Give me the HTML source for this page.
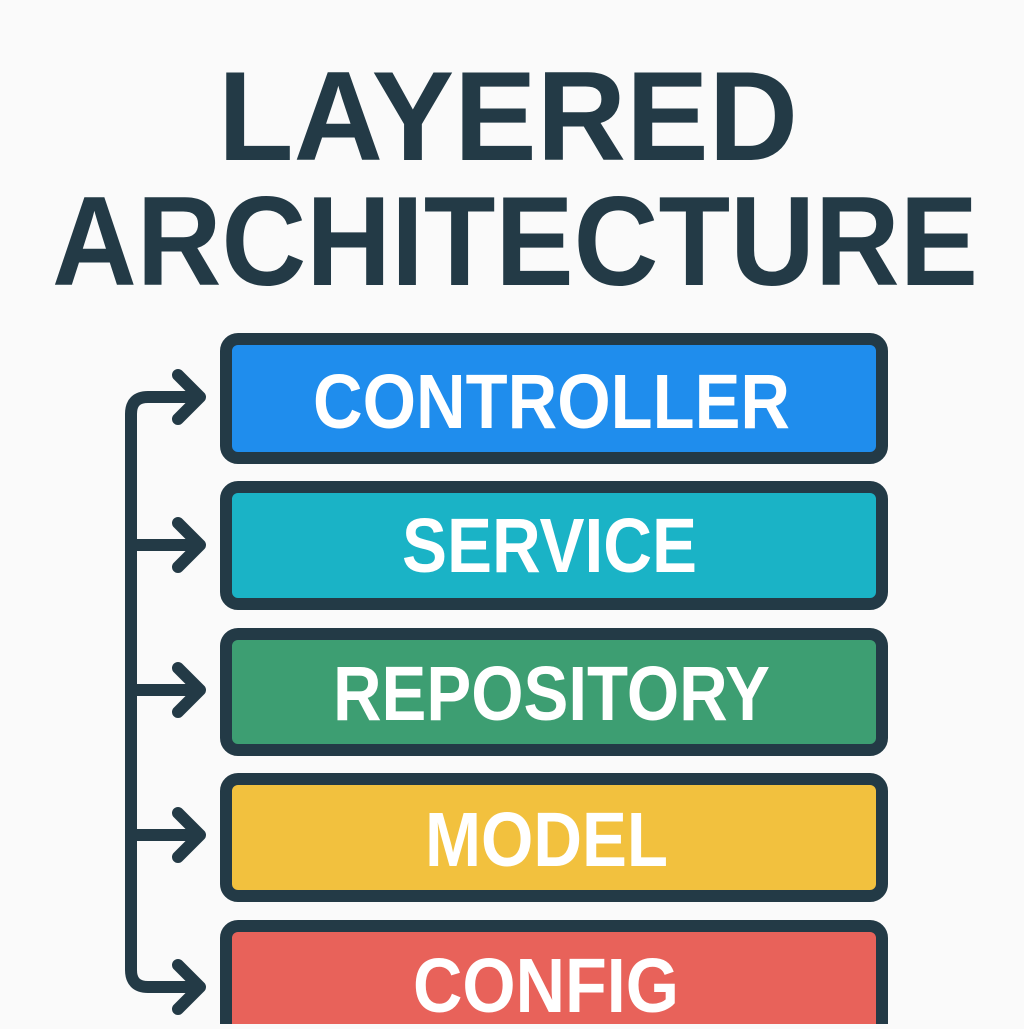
<!DOCTYPE html>
<html><head><style>html,body{margin:0;padding:0;background:#fafafa;}</style></head>
<body>
<svg width="1024" height="1024" viewBox="0 0 1024 1024" xmlns="http://www.w3.org/2000/svg">
<rect width="1024" height="1024" fill="#fafafa"/>
<g font-family="Liberation Sans, sans-serif" font-weight="bold" fill="#233a46">
<text x="218" y="160" font-size="127" textLength="580" lengthAdjust="spacingAndGlyphs">LAYERED</text>
<text x="52" y="285" font-size="127" textLength="926" lengthAdjust="spacingAndGlyphs">ARCHITECTURE</text>
</g>
<g stroke="#233a46" stroke-width="12">
<rect x="226" y="339" width="656" height="119" rx="12" fill="#1f8ded"/>
<rect x="226" y="487" width="656" height="117" rx="12" fill="#1ab3c6"/>
<rect x="226" y="634" width="656" height="116" rx="12" fill="#3d9e72"/>
<rect x="226" y="779" width="656" height="117" rx="12" fill="#f2c13e"/>
<rect x="226" y="926" width="656" height="120" rx="12" fill="#e8625a"/>
</g>
<g font-family="Liberation Sans, sans-serif" font-weight="bold" fill="#ffffff" font-size="77">
<text x="313" y="428" textLength="477" lengthAdjust="spacingAndGlyphs">CONTROLLER</text>
<text x="402" y="572" textLength="295" lengthAdjust="spacingAndGlyphs">SERVICE</text>
<text x="333" y="720" textLength="437" lengthAdjust="spacingAndGlyphs">REPOSITORY</text>
<text x="425" y="866" textLength="243" lengthAdjust="spacingAndGlyphs">MODEL</text>
<text x="413" y="1012" textLength="266" lengthAdjust="spacingAndGlyphs">CONFIG</text>
</g>
<g fill="none" stroke="#233a46" stroke-width="12" stroke-linecap="round" stroke-linejoin="round">
<path d="M196 397 H148 Q131 397 131 414 V970 Q131 987 148 987 H196"/>
<path d="M131 545 H196 M131 690 H196 M131 835 H196"/>
<path d="M178 375 L200 397 L178 419"/>
<path d="M178 523 L200 545 L178 567"/>
<path d="M178 668 L200 690 L178 712"/>
<path d="M178 813 L200 835 L178 857"/>
<path d="M178 965 L200 987 L178 1009"/>
</g>
</svg>
</body></html>
